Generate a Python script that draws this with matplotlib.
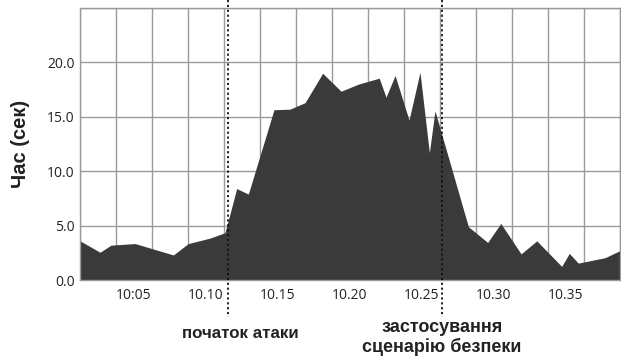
import matplotlib
matplotlib.use("Agg")
import matplotlib.pyplot as plt
import numpy as np

# minutes after 10:00 and response time (sec)
minutes = [1.25, 2.64, 3.40, 5.07, 7.73, 8.77, 10.28, 11.32, 12.13, 12.94,
           14.72, 15.83, 16.88, 18.10, 19.38, 20.58, 22.03, 22.50, 23.13, 24.10,
           24.86, 25.51, 25.90, 28.22, 29.56, 30.47, 31.88, 32.97, 34.70, 35.23,
           35.85, 37.71, 38.75]
seconds = [3.6, 2.55, 3.2, 3.35, 2.3, 3.35, 3.85, 4.35, 8.4, 7.9,
           15.65, 15.7, 16.3, 19.0, 17.35, 18.0, 18.55, 16.8, 18.8, 14.7,
           19.1, 11.7, 15.55, 4.9, 3.45, 5.2, 2.4, 3.6, 1.25, 2.45,
           1.55, 2.05, 2.7]

tick_pos = [5, 10, 15, 20, 25, 30, 35]
tick_labels = ["10:05", "10.10", "10.15", "10.20", "10.25", "10.30", "10.35"]
y_ticks = [0, 5, 10, 15, 20]

attack_start = 11.55
fix_applied = 26.37

grid_c = "#9a9a9a"
fill_c = "#3a3a3a"
txt_c = "#222"
bold_font = ["Liberation Sans", "DejaVu Sans"]

fig = plt.figure(figsize=(6.21, 3.6), dpi=100)
ax = fig.add_axes([80 / 621, (360 - 280) / 360, 540 / 621, 272 / 360])

ax.fill_between(minutes, seconds, 0, color=fill_c, lw=0, zorder=2)

ax.set_xlim(1.25, 38.75)
ax.set_ylim(0, 25)
ax.set_xticks(tick_pos)
ax.set_xticklabels(tick_labels)
ax.set_xticks(np.arange(1.25, 38.8, 2.5), minor=True)
ax.set_yticks(y_ticks)
ax.set_yticklabels([f"{v:.1f}" for v in y_ticks])
ax.set_yticks([25], minor=True)

ax.grid(False)
ax.xaxis.grid(True, which="minor", color=grid_c, lw=1)
ax.yaxis.grid(True, which="both", color=grid_c, lw=1)
ax.set_axisbelow(True)
for s in ax.spines.values():
    s.set_color(grid_c)
    s.set_linewidth(1)

ax.tick_params("both", which="both", length=0)
ax.tick_params("x", pad=6, labelsize=10, labelcolor=txt_c)
ax.tick_params("y", pad=4, labelsize=10, labelcolor=txt_c)
for lab in ax.get_xticklabels() + ax.get_yticklabels():
    lab.set_family("Open Sans")

ax.set_ylabel("Час (сек)", family=bold_font, fontweight="bold", fontsize=14.5,
              color=txt_c, labelpad=12)

# event markers
xt = ax.get_xaxis_transform()
for xv in (attack_start, fix_applied):
    ax.plot([xv, xv], [1.03, -0.135], transform=xt,
            ls=(0, (1.2, 1.5)), color="#111", lw=1.3, clip_on=False, zorder=4)

lbl = dict(transform=xt, ha="center", va="center", family=bold_font,
           fontweight="bold", fontsize=13, color=txt_c)
ax.text(attack_start + 0.85, -0.195, "початок атаки", **dict(lbl, fontsize=12.2))
ax.text(fix_applied, -0.173, "застосування", **lbl)
ax.text(fix_applied, -0.246, "сценарію безпеки", **lbl)

fig.savefig("out.png", dpi=100)
